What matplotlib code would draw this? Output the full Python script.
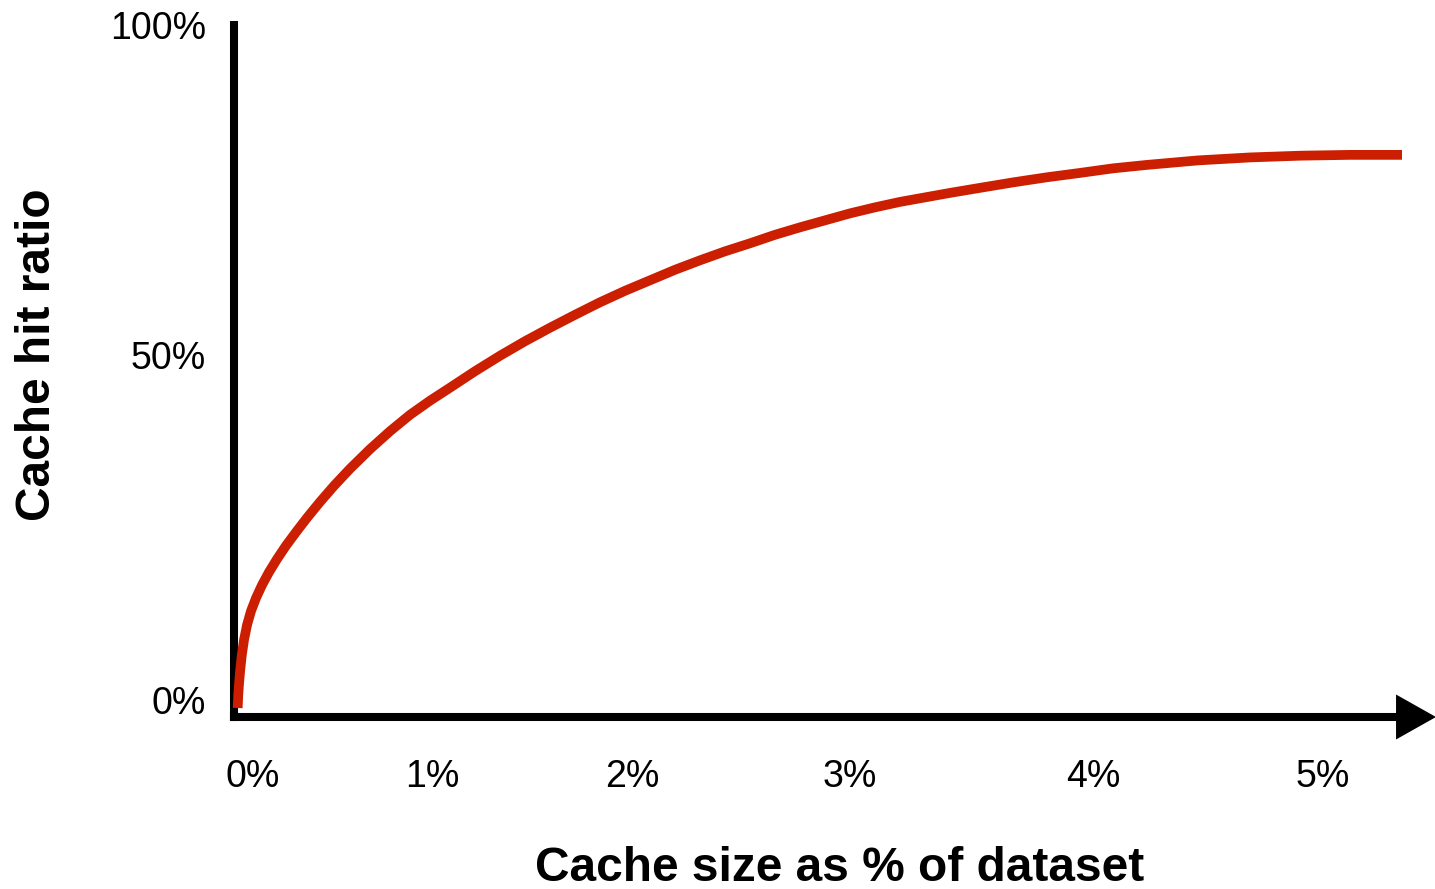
import matplotlib
matplotlib.use("Agg")
import matplotlib.pyplot as plt
from matplotlib.patches import Polygon

plt.rcParams['font.family'] = ['Liberation Sans', 'DejaVu Sans']

# Curve readings: x = cache size (% of dataset), y = cache hit ratio (%)
cache_size = [0.0170, 0.0193, 0.0230, 0.0285, 0.0358, 0.0459, 0.0597, 0.0781,
              0.1010, 0.1286, 0.1607, 0.1974, 0.2388, 0.2847, 0.3352, 0.3949,
              0.4591, 0.5326, 0.6244, 0.7163, 0.8081, 0.8999, 0.9917, 1.1065,
              1.2213, 1.3361, 1.4509, 1.5657, 1.6804, 1.7952, 1.9100, 2.0248,
              2.1396, 2.2544, 2.3691, 2.4839, 2.5987, 2.7135, 2.8283, 2.9431,
              3.0579, 3.1726, 3.2874, 3.4252, 3.5767, 3.7282, 3.8843, 4.0358,
              4.1919, 4.4261, 4.6648, 4.8944, 5.1240, 5.3627]
hit_ratio = [1.30, 3.03, 4.77, 6.79, 8.96, 11.13, 13.29, 15.32,
             17.20, 19.08, 20.95, 22.83, 24.78, 26.73, 28.80, 31.10,
             33.43, 35.90, 38.73, 41.33, 43.70, 45.74, 47.62, 50.00,
             52.24, 54.34, 56.29, 58.16, 59.97, 61.63, 63.15, 64.67,
             66.04, 67.34, 68.50, 69.73, 70.81, 71.82, 72.83, 73.70,
             74.49, 75.14, 75.79, 76.52, 77.31, 78.03, 78.68, 79.34,
             79.84, 80.49, 80.92, 81.17, 81.29, 81.29]

# Tick labels and where the labels sit along each axis (data units)
x_tick_labels = ['0%', '1%', '2%', '3%', '4%', '5%']
x_tick_pos = [0.088, 0.909, 1.829, 2.828, 3.944, 5.0]
y_tick_labels = ['0%', '50%', '100%']
y_tick_pos = [2.53, 52.4, 100.07]

x_label = 'Cache size as % of dataset'
y_label = 'Cache hit ratio'

W, H = 1435, 889
fig = plt.figure(figsize=(W / 100, H / 100), dpi=100)
ax = fig.add_axes([234 / W, (H - 717) / H, 1168 / W, 692 / H])

ax.plot(cache_size, hit_ratio, color='#cc1e00', lw=7.0,
        solid_capstyle='butt', solid_joinstyle='round',
        clip_on=False, zorder=3)

ax.set_xlim(0, 5.3627)
ax.set_ylim(0, 100)

for side in ['top', 'right']:
    ax.spines[side].set_visible(False)
for side in ['left', 'bottom']:
    ax.spines[side].set_linewidth(5.8)
    ax.spines[side].set_color('black')

# arrow head at the end of the x axis
head = Polygon([(0.9949, -0.0325), (0.9949, 0.0325), (1.0291, 0.0)],
               closed=True, transform=ax.transAxes, clip_on=False,
               facecolor='black', edgecolor='none', zorder=4)
ax.add_patch(head)

ax.set_xticks(x_tick_pos, x_tick_labels)
ax.set_yticks(y_tick_pos, y_tick_labels)
ax.tick_params(axis='x', length=0, pad=50.4, labelsize=27)
ax.tick_params(axis='y', length=0, pad=20.0, labelsize=27)
for lab in ax.get_xticklabels():
    lab.set_va('baseline')

fig.text(840 / W, 1 - 881 / H, x_label, ha='center', va='baseline',
         fontsize=34.5, fontweight='bold')
fig.text(15 / W, 1 - 355 / H, y_label, ha='left', va='center',
         rotation=90, fontsize=34.5, fontweight='bold')

fig.savefig('out.png', dpi=100)
